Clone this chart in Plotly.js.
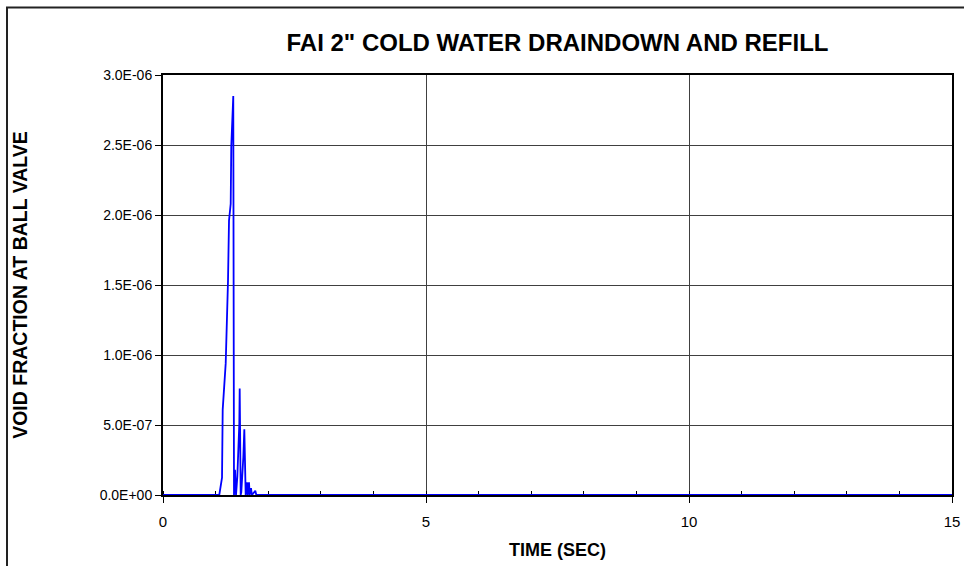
<!DOCTYPE html>
<html>
<head>
<meta charset="utf-8">
<script src="https://cdn.plot.ly/plotly-3.0.1.min.js"></script>
<style>html,body{margin:0;padding:0;background:#fff;}#chart{width:964px;height:566px;}</style>
</head>
<body>
<div id="chart"></div>
<script>
const timeSec = [0, 1.07, 1.122, 1.135, 1.192, 1.21, 1.236, 1.255, 1.287, 1.298, 1.336, 1.35, 1.369, 1.388, 1.413, 1.451, 1.458, 1.477, 1.489, 1.527, 1.546, 1.572, 1.597, 1.61, 1.635, 1.648, 1.673, 1.69, 1.755, 1.774, 15];
const voidFraction = [0, 0, 1.24e-7, 6.1e-7, 9.4e-7, 1.17e-6, 1.53e-6, 1.96e-6, 2.08e-6, 2.49e-6, 2.85e-6, 0, 1.8e-7, 0, 1.3e-7, 5.1e-7, 7.6e-7, 0, 0.2e-7, 2.7e-7, 4.7e-7, 0, 0.9e-7, 0, 0.9e-7, 0, 0.5e-7, 0, 0.3e-7, 0, 0];
const yTickVals = [0, 5e-7, 1e-6, 1.5e-6, 2e-6, 2.5e-6, 3e-6];
const yTickText = ["0.0E+00", "5.0E-07", "1.0E-06", "1.5E-06", "2.0E-06", "2.5E-06", "3.0E-06"];
const xTickVals = [0, 5, 10, 15];

const fontFam = "Liberation Sans, Arial, sans-serif";

const trace = {
  x: timeSec, y: voidFraction, type: 'scatter', mode: 'lines',
  line: {color: '#0000FF', width: 1.8}, hoverinfo: 'skip', showlegend: false
};

const layout = {
  width: 964, height: 566,
  margin: {l: 163, r: 12, t: 75, b: 71, pad: 0},
  paper_bgcolor: '#fff', plot_bgcolor: '#fff',
  font: {family: fontFam, color: '#000', size: 14},
  title: {
    text: '<b>FAI 2" COLD WATER DRAINDOWN AND REFILL</b>',
    font: {family: fontFam, size: 24, color: '#000'},
    x: 0.5, xref: 'paper', xanchor: 'center',
    y: 1 - 43/566, yref: 'container', yanchor: 'middle'
  },
  xaxis: {
    range: [0, 15], tickvals: xTickVals, ticktext: xTickVals.map(String),
    ticks: 'outside', ticklen: 6, tickwidth: 1, tickcolor: '#000',
    showline: true, linewidth: 2, linecolor: '#000', mirror: true,
    showgrid: true, gridcolor: '#404040', gridwidth: 1,
    zeroline: false, layer: 'below traces',
    minor: {ticks: 'inside', dtick: 1, ticklen: 4, tickwidth: 1, tickcolor: '#000', showgrid: false},
    ticklabelstandoff: 6,
    tickfont: {family: fontFam, size: 15, color: '#000'},
    title: {text: '<b>TIME (SEC)</b>', font: {family: fontFam, size: 18, color: '#000'}, standoff: 14}
  },
  yaxis: {
    range: [0, 3e-6], tickvals: yTickVals, ticktext: yTickText,
    ticks: 'outside', ticklen: 6, tickwidth: 1, tickcolor: '#000',
    showline: true, linewidth: 2, linecolor: '#000', mirror: true,
    showgrid: true, gridcolor: '#404040', gridwidth: 1,
    zeroline: false, layer: 'below traces',
    tickfont: {family: fontFam, size: 14, color: '#000'},
    title: {text: '<b>VOID FRACTION AT BALL VALVE</b>', font: {family: fontFam, size: 19.5, color: '#000'}, standoff: 67}
  },
  shapes: [{
    type: 'path', xref: 'paper', yref: 'paper',
    path: 'M ' + ((7-163)/789) + ',' + ((495-570)/420) + ' L ' + ((7-163)/789) + ',' + ((495-7.5)/420) + ' L ' + ((970-163)/789) + ',' + ((495-7.5)/420),
    line: {color: '#222', width: 2}
  }]
};

Plotly.newPlot('chart', [trace], layout, {displayModeBar: false, staticPlot: true});
</script>
</body>
</html>
